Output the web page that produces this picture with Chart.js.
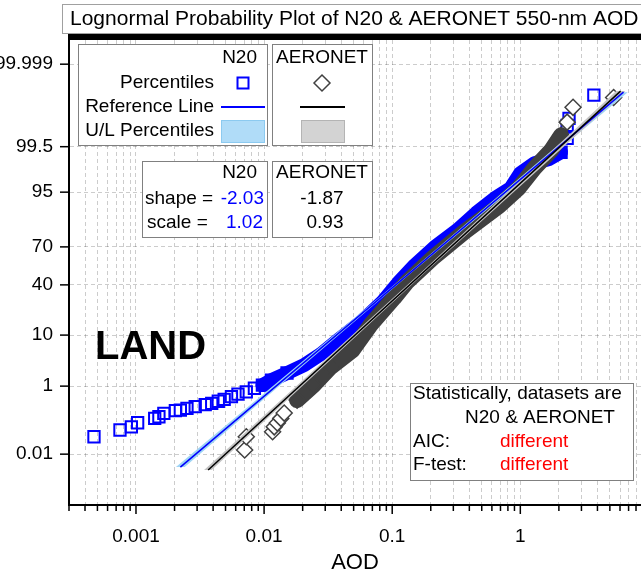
<!DOCTYPE html>
<html>
<head>
<meta charset="utf-8">
<script src="https://cdn.jsdelivr.net/npm/chart.js@4.4.1/dist/chart.umd.min.js"></script>
<style>
html,body{margin:0;padding:0;background:#fff}
canvas{display:block}
</style>
</head>
<body>
<canvas id="prob-canvas" width="641" height="577"></canvas>
<script>
// percentiles (AOD, cumulative %)
const n20Aod=[0.00047,0.00075,0.00092,0.00103,0.0014,0.00151,0.00165,0.00203,0.00222,0.0025,0.0029,0.00347,0.0039,0.00439,0.00488,0.00556,0.00625,0.00726,0.0084,0.0097,0.0114,0.0151,0.0205,0.0277,0.0368,0.057,0.0834,0.1108,0.150,0.214,0.321,0.451,0.633,0.84,1.0,1.29,1.68,2.08,2.32,2.32,2.4,3.75]
const n20Pct=[0.0385,0.063,0.079,0.105,0.141,0.157,0.196,0.233,0.243,0.27,0.30,0.34,0.37,0.42,0.47,0.55,0.64,0.73,0.89,1.06,1.38,1.98,2.9,4.75,8.0,15.5,27.2,41.4,56,69.8,80.7,88.8,93.6,95.8,97.9,98.74,98.99,99.31,99.70,99.87,99.92,99.986]
const aerAod=[0.00705,0.00726,0.01165,0.012,0.01268,0.0135,0.01435,0.0181,0.0244,0.0331,0.049,0.0676,0.103,0.13,0.2066,0.371,0.68,0.97,1.29,1.745,2.08,2.32,2.58,5.35]
const aerPct=[0.0139,0.0385,0.0557,0.079,0.103,0.141,0.20,0.45,1.06,2.64,5.6,14.1,30,42.2,61.6,80.1,91.3,95.8,98.37,99.39,99.75,99.896,99.964,99.983]
// where the points are so dense they merge into a ribbon
const n20Dense=[19,37]
const aerDense=[7,20]

// reference lines (end points) and U/L percentile bands (outline)
const n20RefAod=[0.00222,6.39]
const n20RefPct=[0.0034,99.9889]
const aerRefAod=[0.00366,6.06]
const aerRefPct=[0.00263,99.9898]
const n20BandAod=[0.00205,0.135,6.0,6.9,0.142,0.0024]
const n20BandPct=[0.0034,50,99.9889,99.9889,50,0.0034]
const aerBandAod=[0.0034,0.168,5.6,6.6,0.18,0.0039]
const aerBandPct=[0.00263,50,99.9898,99.9898,50,0.00263]

const yTickLabels=['0.01','1','10','40','70','95','99.5','99.999']
const xTickLabels=['0.001','0.01','0.1','1']

// inverse normal cdf (Acklam)
function probit(p){
  const a=[-39.69683028665376,220.9460984245205,-275.9285104469687,138.3577518672690,-30.66479806614716,2.506628277459239]
  const b=[-54.47609879822406,161.5858368580409,-155.6989798598866,66.80131188771972,-13.28068155288572]
  const c=[-0.007784894002430293,-0.3223964580411365,-2.400758277161838,-2.549732539343734,4.374664141464968,2.938163982698783]
  const d=[0.007784695709041462,0.3224671290700398,2.445134137142996,3.754408661907416]
  const pl=0.02425
  if(p<pl){const q=Math.sqrt(-2*Math.log(p));return (((((c[0]*q+c[1])*q+c[2])*q+c[3])*q+c[4])*q+c[5])/((((d[0]*q+d[1])*q+d[2])*q+d[3])*q+1)}
  if(p>1-pl){const q=Math.sqrt(-2*Math.log(1-p));return -(((((c[0]*q+c[1])*q+c[2])*q+c[3])*q+c[4])*q+c[5])/((((d[0]*q+d[1])*q+d[2])*q+d[3])*q+1)}
  const q=p-0.5,r=q*q
  return (((((a[0]*r+a[1])*r+a[2])*r+a[3])*r+a[4])*r+a[5])*q/(((((b[0]*r+b[1])*r+b[2])*r+b[3])*r+b[4])*r+1)
}
const toXY=(aod,pct)=>aod.map((v,i)=>({x:v,y:probit(pct[i]/100)}))

const isDecade=v=>Math.abs(Math.log10(v)-Math.round(Math.log10(v)))<1e-6
const FONT="'Liberation Sans', Arial, sans-serif"

function txt(ctx,s,x,y,align,color,size,weight){
  ctx.font=(weight||'normal')+' '+(size||19)+'px '+FONT
  ctx.fillStyle=color||'#000'
  ctx.textAlign=align||'left'
  ctx.textBaseline='middle'
  ctx.fillText(s,x,y)
}
function box(ctx,x,y,w,h,stroke){
  ctx.fillStyle='#fff';ctx.fillRect(x,y,w,h)
  ctx.strokeStyle=stroke||'#808080';ctx.lineWidth=1
  ctx.strokeRect(x+0.5,y+0.5,w,h)
}

const decorations={
  id:'decorations',
  afterDraw(chart){
    const ctx=chart.ctx,xs=chart.scales.x,ys=chart.scales.y,area=chart.chartArea
    ctx.save()
    //tick marks
    ctx.strokeStyle='#000';ctx.lineWidth=1.5
    xs.ticks.forEach(t=>{
      const px=xs.getPixelForValue(t.value),len=isDecade(t.value)?8:5
      ctx.beginPath();ctx.moveTo(px,area.bottom+1);ctx.lineTo(px,area.bottom+1+len);ctx.stroke()
    })
    ys.ticks.forEach(t=>{
      const py=ys.getPixelForValue(t.value)
      ctx.beginPath();ctx.moveTo(area.left-1,py);ctx.lineTo(area.left-9,py);ctx.stroke()
    })
    //thick top frame
    ctx.fillStyle='#000';ctx.fillRect(area.left-1,33,chart.width-area.left+1,7)
    //title
    box(ctx,62,4,600,29,'#a0a0a0')
    txt(ctx,'Lognormal Probability Plot of N20 & AERONET 550-nm AOD',70,19,'left','#000',21)

    //legend
    box(ctx,78,44,189,101)
    box(ctx,272,44,100,101)
    txt(ctx,'N20',257,58,'right')
    txt(ctx,'Percentiles',214,83,'right')
    txt(ctx,'Reference Line',214,107,'right')
    txt(ctx,'U/L Percentiles',214,131,'right')
    txt(ctx,'AERONET',322,58,'center')
    ctx.strokeStyle='#0000ff';ctx.lineWidth=2
    ctx.strokeRect(237.5,77.5,11,11)
    ctx.beginPath();ctx.moveTo(221,107);ctx.lineTo(265,107);ctx.stroke()
    ctx.fillStyle='#b0dcf8';ctx.fillRect(221,120,43,22)
    ctx.strokeStyle='#8ccaf0';ctx.lineWidth=1;ctx.strokeRect(221.5,120.5,43,22)
    ctx.beginPath();ctx.moveTo(322,75);ctx.lineTo(330,83);ctx.lineTo(322,91);ctx.lineTo(314,83);ctx.closePath()
    ctx.fillStyle='#fff';ctx.fill();ctx.strokeStyle='#404040';ctx.lineWidth=1.5;ctx.stroke()
    ctx.strokeStyle='#000';ctx.lineWidth=2
    ctx.beginPath();ctx.moveTo(300,107);ctx.lineTo(345,107);ctx.stroke()
    ctx.fillStyle='#d3d3d3';ctx.fillRect(301,120,43,22)
    ctx.strokeStyle='#b4b4b4';ctx.lineWidth=1;ctx.strokeRect(301.5,120.5,43,22)

    //fit parameters
    box(ctx,142,161,125,76)
    box(ctx,272,161,100,76)
    txt(ctx,'N20',257,173,'right')
    txt(ctx,'shape =',145,199,'left')
    txt(ctx,'-2.03',264,199,'right','#0000ff')
    txt(ctx,'scale =',147,223,'left')
    txt(ctx,'1.02',263,223,'right','#0000ff')
    txt(ctx,'AERONET',322,173,'center')
    txt(ctx,'-1.87',322,199,'center')
    txt(ctx,'0.93',325,223,'center')

    //statistics
    box(ctx,410,383,223,97)
    txt(ctx,'Statistically, datasets are',413,394)
    txt(ctx,'N20 & AERONET',465,418)
    txt(ctx,'AIC:',413,442)
    txt(ctx,'different',500,442,'left','#ff0000')
    txt(ctx,'F-test:',413,465)
    txt(ctx,'different',500,465,'left','#ff0000')

    txt(ctx,'LAND',95,348,'left','#000',40,'bold')
    ctx.restore()
  }
}

const n20Pts=toXY(n20Aod,n20Pct)
const aerPts=toXY(aerAod,aerPct)
// hide the markers that sit inside the merged ribbon
const markerSize=(dense)=>c=>(c.dataIndex>dense[0]+2&&c.dataIndex<dense[1])?0:8

new Chart(document.getElementById('prob-canvas'),{
  type:'scatter',
  data:{datasets:[
    {label:'N20 ribbon',data:n20Pts.slice(n20Dense[0],n20Dense[1]+1),showLine:true,borderColor:'#0000ff',borderWidth:14,borderCapStyle:'round',borderJoinStyle:'round',pointRadius:0,order:10},
    {label:'N20',data:n20Pts,pointStyle:'rect',pointRadius:markerSize(n20Dense),pointBorderWidth:2,pointBorderColor:'#0000ff',pointBackgroundColor:'rgba(0,0,0,0)',order:9},
    {label:'AERONET ribbon',data:aerPts.slice(aerDense[0],aerDense[1]+1),showLine:true,borderColor:'#404040',borderWidth:16,borderCapStyle:'round',borderJoinStyle:'round',pointRadius:0,order:8},
    {label:'AERONET',data:aerPts,pointStyle:'rectRot',pointRadius:markerSize(aerDense),pointBorderWidth:1.5,pointBorderColor:'#404040',
      pointBackgroundColor:c=>(c.dataIndex<aerDense[0]||c.dataIndex>aerDense[1])?'#fff':'rgba(0,0,0,0)',order:7},
    {label:'N20 U/L',data:toXY(n20BandAod,n20BandPct),showLine:true,fill:'shape',backgroundColor:'#9fd4f5',borderWidth:0,borderColor:'rgba(0,0,0,0)',pointRadius:0,order:6},
    {label:'AERONET U/L',data:toXY(aerBandAod,aerBandPct),showLine:true,fill:'shape',backgroundColor:'#c4c4c4',borderWidth:0,borderColor:'rgba(0,0,0,0)',pointRadius:0,order:5},
    {label:'N20 ref',data:toXY(n20RefAod,n20RefPct),showLine:true,borderColor:'#0000ff',borderWidth:1.5,pointRadius:0,order:4},
    {label:'AERONET ref',data:toXY(aerRefAod,aerRefPct),showLine:true,borderColor:'#000',borderWidth:1.5,pointRadius:0,order:3}
  ]},
  options:{
    responsive:false,
    devicePixelRatio:1,
    animation:false,
    layout:{autoPadding:false,padding:{left:0,top:40,right:0,bottom:0}},
    plugins:{legend:{display:false},tooltip:{enabled:false}},
    scales:{
      x:{
        type:'logarithmic',min:0.000338,max:8.75,
        afterBuildTicks:s=>{
          const t=[]
          for(let k=-4;k<=1;k++)for(let m=1;m<=9;m++){const v=m*Math.pow(10,k);if(v>=s.min&&v<=s.max)t.push({value:v})}
          s.ticks=t
        },
        afterFit:s=>{s.height=72;s.paddingLeft=0;s.paddingRight=0},
        ticks:{autoSkip:false,maxRotation:0,padding:0,color:'#000',font:{family:FONT,size:19},
          callback:v=>{const l=xTickLabels.find(l=>Math.abs(Number(l)-v)<v*1e-6);return l||''}},
        grid:{drawTicks:true,tickLength:20,tickColor:'rgba(0,0,0,0)',color:'rgba(0,0,0,0.2)',lineWidth:1},
        border:{display:true,color:'#000',width:2,dash:[4,3]},
        title:{display:true,text:'AOD',color:'#000',font:{family:FONT,size:22},padding:{top:0,bottom:1}}
      },
      y:{
        type:'linear',min:-4.76,max:4.76,
        afterBuildTicks:s=>{s.ticks=yTickLabels.map(l=>({value:probit(Number(l)/100)}))},
        afterFit:s=>{s.width=69},
        ticks:{autoSkip:false,padding:16,color:'#000',font:{family:FONT,size:19},callback:(v,i)=>yTickLabels[i]},
        grid:{drawTicks:false,color:'rgba(0,0,0,0.2)',lineWidth:1},
        border:{display:true,color:'#000',width:2,dash:[4,3]}
      }
    }
  },
  plugins:[decorations]
})
</script>
</body>
</html>
